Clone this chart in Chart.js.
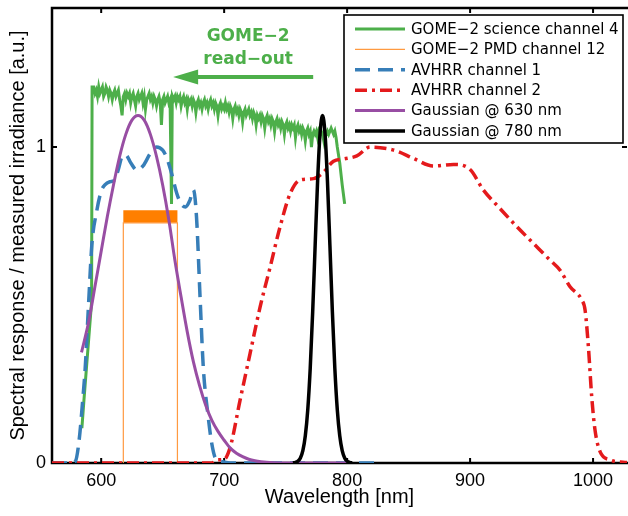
<!DOCTYPE html>
<html lang="en">
<head>
<meta charset="UTF-8">
<title>Spectral response functions</title>
<script src="https://cdn.jsdelivr.net/npm/chart.js"></script>
<style>
  html, body { margin: 0; padding: 0; background: #fff; }
  canvas { display: block; }
</style>
</head>
<body>
<canvas id="specChart" width="628" height="516"></canvas>
<script>
  // values: wavelength [nm] / response [a.u.]
  const xTicks = [600, 700, 800, 900, 1000];
  const yTicks = [0, 1];

  // GOME-2 science channel 4 as [wavelength, response] pairs
  const gomeSpectrum = [
    [584.3, 0.11], [586, 0.20], [588, 0.30], [590, 0.40], [592.2, 0.51], [592.6, 1.19],
    [594, 1.19], [595, 1.17], [596, 1.18], [597, 1.16], [598, 1.19], [599, 1.17], [600, 1.18], [601, 1.19],
    [602, 1.16], [603, 1.17], [604, 1.19], [605, 1.18], [606, 1.16], [607, 1.18], [608, 1.17], [609, 1.15],
    [610, 1.17], [611, 1.18], [612, 1.16], [613, 1.17], [614, 1.18], [615, 1.15], [616, 1.13], [617, 1.10],
    [618, 1.16], [619, 1.17], [620, 1.15], [621, 1.17], [622, 1.16], [623, 1.17], [624, 1.14], [625, 1.16],
    [626, 1.17], [627, 1.15], [628, 1.13], [629, 1.16], [630, 1.17], [631, 1.15], [632, 1.16], [633, 1.17],
    [634, 1.14], [635, 1.16], [636, 1.12], [637, 1.15], [638, 1.16], [639, 1.17], [640, 1.15], [641, 1.16],
    [642, 1.14], [643, 1.16], [644, 1.15], [645, 1.13], [646, 1.15], [647, 1.16], [648, 1.14], [649, 1.07],
    [650, 1.15], [651, 1.16], [652, 1.14], [653, 1.15], [654, 1.16], [655, 1.14], [656, 1.15], [656.6, 1.15],
    [657.2, 0.82], [657.8, 1.15], [658, 1.16], [659, 1.15], [660, 1.16], [661, 1.14], [662, 1.16], [663, 1.15],
    [664, 1.16], [665, 1.13], [666, 1.15], [667, 1.16], [668, 1.14], [669, 1.15], [670, 1.12], [671, 1.15],
    [672, 1.14], [673, 1.15], [674, 1.13], [675, 1.15], [676, 1.14], [677, 1.11], [678, 1.14], [679, 1.15],
    [680, 1.13], [681, 1.14], [682, 1.12], [683, 1.14], [684, 1.15], [685, 1.13], [686, 1.14], [687, 1.12],
    [688, 1.14], [689, 1.15], [690, 1.13], [691, 1.14], [692, 1.12], [693, 1.14], [694, 1.13], [695, 1.10],
    [696, 1.13], [697, 1.14], [698, 1.12], [699, 1.13], [700, 1.12], [701, 1.14], [702, 1.12], [703, 1.13],
    [704, 1.11], [705, 1.13], [706, 1.12], [707, 1.09], [708, 1.12], [709, 1.13], [710, 1.11], [711, 1.12],
    [712, 1.10], [713, 1.12], [714, 1.11], [715, 1.08], [716, 1.11], [717, 1.12], [718, 1.10], [719, 1.11],
    [720, 1.12], [721, 1.10], [722, 1.11], [723, 1.09], [724, 1.11], [725, 1.10], [726, 1.07], [727, 1.10],
    [728, 1.09], [729, 1.10], [730, 1.08], [731, 1.10], [732, 1.09], [733, 1.06], [734, 1.09], [735, 1.10],
    [736, 1.08], [737, 1.09], [738, 1.07], [739, 1.09], [740, 1.08], [741, 1.05], [742, 1.08], [743, 1.09],
    [744, 1.07], [745, 1.08], [746, 1.06], [747, 1.08], [748, 1.07], [749, 1.04], [750, 1.07], [751, 1.08],
    [752, 1.06], [753, 1.07], [754, 1.05], [755, 1.07], [756, 1.06], [757, 1.07], [758, 1.03], [759, 1.06],
    [760, 1.07], [761, 1.05], [762, 1.06], [763, 1.04], [764, 1.06], [765, 1.05], [766, 1.02], [767, 1.05],
    [768, 1.06], [769, 1.04], [770, 1.05], [771, 1.00], [772, 1.04], [773, 1.05], [774, 1.04], [775, 1.05],
    [776, 1.03], [777, 1.05], [778, 1.04], [779, 1.05], [780, 1.04], [781, 1.02], [782, 1.05], [783, 1.04],
    [784, 1.05], [785, 1.04], [786, 1.05], [787, 1.06], [788, 1.05], [789, 1.04], [790, 1.05], [791, 1.03],
    [792, 1.00], [794, 0.95], [796, 0.88], [798, 0.82]
  ];

  const pmdWl = [618, 618, 662, 662];
  const pmdVal = [0, 0.76, 0.76, 0];
  const pmdTopWl = [618, 662];
  const pmdTopVal = [0.78, 0.78];

  const avhrr1Wl = [560, 576, 579, 582, 585, 587, 589.7, 592.4, 596.5, 600, 603, 607, 611, 614, 617, 620,
    624, 629, 634, 640, 645, 650, 653.5, 657, 661.5, 665, 668.5, 672, 675, 677.5, 680.5, 683, 687, 690,
    693, 699, 705, 826];
  const avhrr1Val = [0, 0, 0.005, 0.07, 0.2, 0.3, 0.5, 0.69, 0.8, 0.86, 0.88, 0.89, 0.895, 0.93, 0.97, 0.975,
    0.95, 0.927, 0.94, 0.98, 1.0, 0.99, 0.964, 0.92, 0.853, 0.82, 0.81, 0.83, 0.864, 0.78, 0.516, 0.305, 0.147, 0.06,
    0.015, 0.004, 0, 0];

  const avhrr2Wl = [560, 690, 695, 699.4, 704.9, 713, 721.1, 729.3, 737.4, 745.5, 753.7, 761.8, 772.6, 780.7,
    788.9, 797, 807.9, 818.7, 832.3, 840.4, 854, 870.2, 886.5, 900, 910.8, 924.4, 938, 951.5, 965, 973.2,
    981.3, 990.8, 993.5, 996.2, 998.9, 1001.6, 1005.7, 1013.8, 1026, 1030];
  const avhrr2Val = [0, 0, 0.01, 0.01, 0.05, 0.2, 0.347, 0.495, 0.62, 0.748, 0.853, 0.896, 0.90, 0.92,
    0.955, 0.962, 0.972, 1.0, 0.995, 0.987, 0.964, 0.94, 0.945, 0.929, 0.864, 0.805, 0.748, 0.695, 0.642, 0.61,
    0.558, 0.516, 0.484, 0.368, 0.21, 0.104, 0.036, 0.01, 0.002, 0];

  const gauss630Wl = [584, 590, 595, 600, 605, 610, 615, 620, 625, 630, 635, 640, 645, 650, 655, 660, 665,
    670, 675, 680, 685, 690, 695, 700, 705, 710, 715, 720, 725, 730, 740, 750, 800];
  const gauss630Val = [0.35, 0.45, 0.56, 0.67, 0.78, 0.88, 0.97, 1.04, 1.085, 1.10, 1.085, 1.04, 0.97, 0.88,
    0.77, 0.64, 0.525, 0.415, 0.32, 0.245, 0.183, 0.135, 0.10, 0.072, 0.047, 0.031, 0.02, 0.012, 0.007, 0.004,
    0.001, 0, 0];

  const gauss780Wl = [756, 758, 760, 762, 764, 766, 768, 770, 772, 774, 776, 778, 780, 782, 784, 786, 788,
    790, 792, 794, 796, 798, 800, 802, 804];
  const gauss780Val = [0, 0.002, 0.006, 0.016, 0.039, 0.086, 0.169, 0.30, 0.479, 0.689, 0.893, 1.044, 1.10,
    1.044, 0.893, 0.689, 0.479, 0.30, 0.169, 0.086, 0.039, 0.016, 0.006, 0.002, 0];

  const toPoints = (wl, val) => wl.map((x, i) => ({ x: x, y: val[i] }));

  const datasets = [
    { label: 'GOME\u22122 science channel 4', data: gomeSpectrum.map(p => ({ x: p[0], y: p[1] })),
      borderColor: '#4daf4a', borderWidth: 3, order: 6 },
    { label: 'GOME\u22122 PMD channel 12', data: toPoints(pmdWl, pmdVal), borderColor: '#ff9a40',
      borderWidth: 1.2, order: 5 },
    { label: 'AVHRR channel 1', data: toPoints(avhrr1Wl, avhrr1Val), borderColor: '#377eb8',
      borderWidth: 3.5, borderDash: [15, 8], cubicInterpolationMode: 'monotone', order: 4 },
    { label: 'AVHRR channel 2', data: toPoints(avhrr2Wl, avhrr2Val), borderColor: '#e41a1c',
      borderWidth: 3.5, borderDash: [12, 5, 3, 5], cubicInterpolationMode: 'monotone', order: 3 },
    { label: 'Gaussian @ 630 nm', data: toPoints(gauss630Wl, gauss630Val), borderColor: '#984ea3',
      borderWidth: 3, cubicInterpolationMode: 'monotone', order: 2 },
    { label: 'Gaussian @ 780 nm', data: toPoints(gauss780Wl, gauss780Val), borderColor: '#000000',
      borderWidth: 3.5, cubicInterpolationMode: 'monotone', order: 1 },
    { label: '', data: toPoints(pmdTopWl, pmdTopVal), borderColor: '#ff7f00', borderWidth: 12.5,
      borderCapStyle: 'butt', order: 5, noLegend: true }
  ];

  // frame with inward ticks, drawn under the curves
  const framePlugin = {
    id: 'frame',
    beforeDatasetsDraw(chart) {
      const { ctx, chartArea: a, scales } = chart;
      ctx.save();
      ctx.strokeStyle = '#000';
      ctx.lineWidth = 2.5;
      ctx.beginPath();
      ctx.moveTo(a.right + 2, a.top);
      ctx.lineTo(a.left, a.top);
      ctx.lineTo(a.left, a.bottom);
      ctx.lineTo(a.right + 2, a.bottom);
      ctx.stroke();
      ctx.lineWidth = 2;
      ctx.beginPath();
      xTicks.forEach(v => {
        const px = scales.x.getPixelForValue(v);
        ctx.moveTo(px, a.bottom); ctx.lineTo(px, a.bottom - 5);
        ctx.moveTo(px, a.top); ctx.lineTo(px, a.top + 5);
      });
      yTicks.forEach(v => {
        const py = scales.y.getPixelForValue(v);
        ctx.moveTo(a.left, py); ctx.lineTo(a.left + 5, py);
        ctx.moveTo(a.right, py); ctx.lineTo(a.right - 5, py);
      });
      ctx.stroke();
      ctx.restore();
    }
  };

  // legend box in the upper right and the read-out annotation
  const overlayPlugin = {
    id: 'overlay',
    afterDraw(chart) {
      const { ctx, chartArea: a, scales } = chart;
      ctx.save();
      const bx = a.right - 283, by = a.top + 7, bw = 279, bh = 128;
      ctx.fillStyle = '#fff';
      ctx.fillRect(bx, by, bw, bh);
      ctx.strokeStyle = '#000';
      ctx.lineWidth = 1.6;
      ctx.strokeRect(bx, by, bw, bh);
      ctx.font = '15px "DejaVu Sans"';
      ctx.textBaseline = 'middle';
      let row = 0;
      chart.data.datasets.forEach(ds => {
        if (ds.noLegend) return;
        const y = by + 14 + row * 20.4;
        ctx.strokeStyle = ds.borderColor;
        ctx.lineWidth = ds.borderWidth;
        ctx.setLineDash(ds.borderDash || []);
        ctx.beginPath();
        ctx.moveTo(bx + 11, y);
        ctx.lineTo(bx + 61, y);
        ctx.stroke();
        ctx.setLineDash([]);
        ctx.fillStyle = '#000';
        ctx.fillText(ds.label, bx + 67, y + 1);
        row++;
      });

      const green = '#4daf4a';
      ctx.fillStyle = green;
      ctx.strokeStyle = green;
      ctx.font = 'bold 17px "DejaVu Sans"';
      ctx.textAlign = 'center';
      const tx = scales.x.getPixelForValue(719.5);
      ctx.fillText('GOME\u22122', tx, scales.y.getPixelForValue(1.349));
      ctx.fillText('read\u2212out', tx, scales.y.getPixelForValue(1.277));
      const ay = scales.y.getPixelForValue(1.222);
      const x0 = scales.x.getPixelForValue(772.4), x1 = scales.x.getPixelForValue(658.5);
      ctx.lineWidth = 4;
      ctx.beginPath();
      ctx.moveTo(x0, ay);
      ctx.lineTo(x1 + 20, ay);
      ctx.stroke();
      ctx.beginPath();
      ctx.moveTo(x1, ay);
      ctx.lineTo(x1 + 25, ay - 7.5);
      ctx.lineTo(x1 + 25, ay + 7.5);
      ctx.closePath();
      ctx.fill();
      ctx.restore();
    }
  };

  const tickFont = { family: '"Liberation Sans", Arial, sans-serif', size: 18 };
  const titleFont = { family: '"Liberation Sans", Arial, sans-serif', size: 20 };
  Chart.defaults.color = '#000';

  new Chart(document.getElementById('specChart').getContext('2d'), {
    type: 'line',
    data: { datasets: datasets },
    options: {
      responsive: false,
      animation: false,
      devicePixelRatio: 1,
      layout: { padding: { top: 8, right: 1, left: 0, bottom: 0 } },
      elements: { point: { radius: 0 }, line: { tension: 0 } },
      plugins: { legend: { display: false }, tooltip: { enabled: false } },
      scales: {
        x: {
          type: 'linear', min: 560, max: 1027.6,
          grid: { display: false, drawTicks: false }, border: { display: false },
          ticks: { font: tickFont, padding: 7, maxRotation: 0, callback: v => String(v) },
          afterBuildTicks: s => { s.ticks = xTicks.map(v => ({ value: v })); },
          afterFit: s => { s.height = 53; s.paddingLeft = 0; s.paddingRight = 0; },
          title: { display: true, text: 'Wavelength [nm]', font: titleFont, padding: { top: 0, bottom: 7 } }
        },
        y: {
          type: 'linear', min: 0, max: 1.44,
          grid: { display: false, drawTicks: false }, border: { display: false },
          ticks: { font: tickFont, padding: 6 },
          afterBuildTicks: s => { s.ticks = yTicks.map(v => ({ value: v })); },
          afterFit: s => { s.width = 52; s.paddingTop = 0; s.paddingBottom = 0; },
          title: { display: true, text: 'Spectral response / measured irradiance [a.u.]', font: titleFont,
            padding: { top: 6, bottom: 0 } }
        }
      }
    },
    plugins: [framePlugin, overlayPlugin]
  });
</script>
</body>
</html>
